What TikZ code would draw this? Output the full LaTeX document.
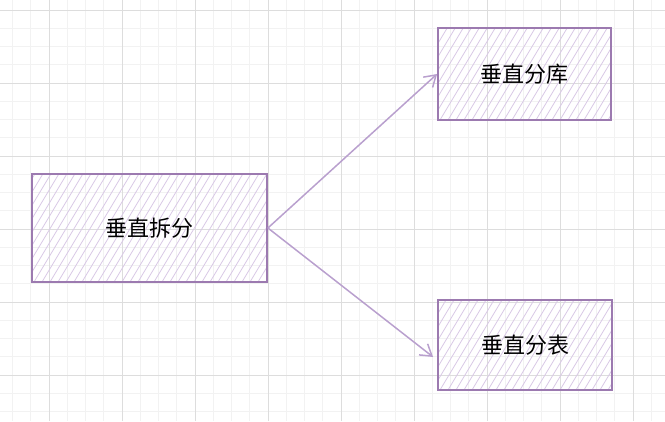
\documentclass[tikz,border=0pt]{standalone}
\usepackage{fontspec}
\newfontfamily\cjk{Noto Sans CJK SC}
\usetikzlibrary{calc,arrows.meta}
\definecolor{boxline}{HTML}{9C7AB0}
\definecolor{hatchc}{HTML}{D9C9E6}
\definecolor{arrowc}{HTML}{B9A0CE}
\definecolor{gridminor}{HTML}{F2F2F2}
\definecolor{gridmajor}{HTML}{DDDDDD}
\tikzset{
    blockbox/.style={draw=boxline, line width=1.8pt, minimum width=#1, inner sep=0pt,
        font=\cjk\fontsize{22}{26}\selectfont,
        path picture={\foreach \k in {0,...,40}{\draw[hatchc, line width=0.8pt]
            ([xshift=\k*8pt-70pt]path picture bounding box.south west) -- ++(66pt,110pt);}}},
    flow/.style={draw=arrowc, line width=1.5pt, -{Straight Barb[length=11pt,width=14pt]}}
}

\begin{document}
\begin{tikzpicture}[x=1pt,y=1pt]
    \useasboundingbox (0,0) rectangle (665,421);
    \foreach \i in {0,...,36} \draw[gridminor, line width=0.8pt] (12.5+\i*18.25,0) -- (12.5+\i*18.25,421);
    \foreach \j in {0,...,22} \draw[gridminor, line width=0.8pt] (0,411-\j*18.25) -- (665,411-\j*18.25);
    \foreach \i in {0,...,8} \draw[gridmajor, line width=0.8pt] (49+\i*73,0) -- (49+\i*73,421);
    \foreach \j in {0,...,5} \draw[gridmajor, line width=0.8pt] (0,411-\j*73) -- (665,411-\j*73);

    \node[blockbox=235pt, minimum height=108pt] (split) at (149.5,193) {垂直拆分};
    \node[blockbox=173pt, minimum height=92pt] (db) at (524.5,347) {垂直分库};
    \node[blockbox=174pt, minimum height=90pt] (table) at (525,76) {垂直分表};
    \coordinate (tin) at ($(table.west)+(-4,-12)$);

    \draw[flow] (split.east) -- (db.west);
    \draw[flow] (split.east) -- (tin);
\end{tikzpicture}
\end{document}
